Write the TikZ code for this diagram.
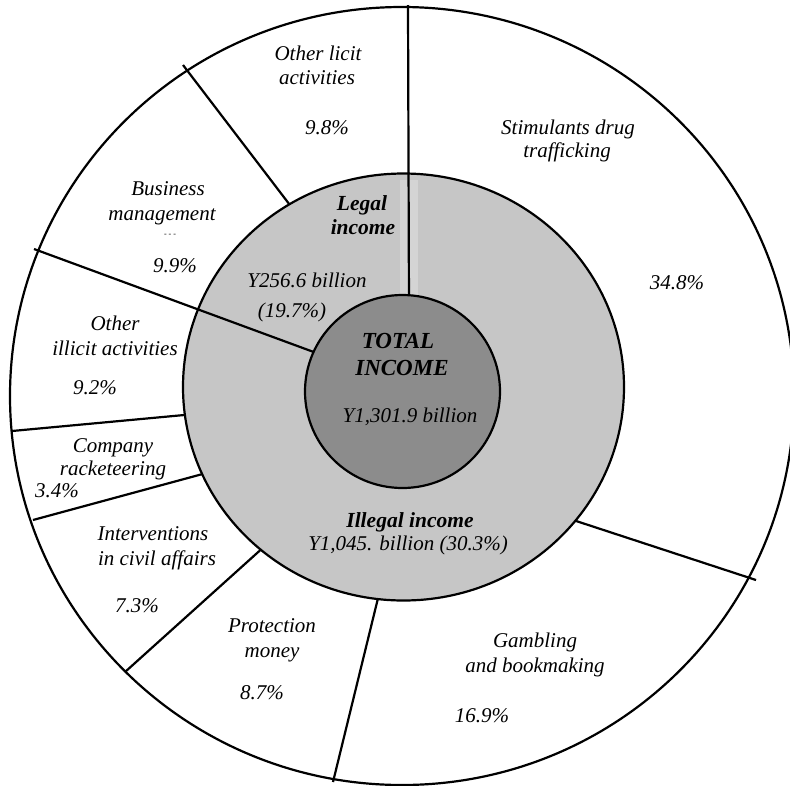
\documentclass[tikz,border=0pt]{standalone}
\usepackage{fontspec}
\setmainfont{Liberation Serif}
\begin{document}
\begin{tikzpicture}[x=1pt,y=-1pt,
  ring/.style={draw=black,line width=2.2pt},
  div/.style={draw=black,line width=2.2pt},
  lab/.style={font=\fontsize{21}{23}\selectfont\itshape,anchor=base,inner sep=0pt},
  blab/.style={font=\fontsize{21.5}{23}\selectfont\bfseries\itshape,anchor=base,inner sep=0pt},
  tlab/.style={font=\fontsize{23}{25}\selectfont\bfseries\itshape,anchor=base,inner sep=0pt}]
\definecolor{midgray}{RGB}{198,198,198}
\definecolor{ingray}{RGB}{140,140,140}
\useasboundingbox (0,0) rectangle (790,785);
\fill[white] (0,0) rectangle (790,785);
% outer disc
\coordinate (co) at (402,396);
\draw[ring,fill=white] (co) ellipse [x radius=392pt, y radius=389pt];
% dividers from outer circle to middle circle
\draw[div] (183,65) -- (296,213);
\draw[div] (12,431) -- (195,414);
\draw[div] (33,520) -- (210,472);
\draw[div] (125,672) -- (266,545);
\draw[div] (333,782) -- (380,590);
\draw[div] (570,519) -- (756,580);
% middle ring
\coordinate (cm) at (403.5,387);
\draw[ring,fill=midgray] (cm) ellipse [x radius=220.5pt, y radius=213.5pt];
\draw[white,opacity=.25,line width=18pt] (409,180) -- (409,300);
% dividers reaching the inner circle
\draw[div] (408,5) -- (409,310);
\draw[div] (34,249) -- (330,358);
% inner disc
\coordinate (ci) at (402.5,391.5);
\draw[ring,fill=ingray] (ci) ellipse [x radius=97.5pt, y radius=96.5pt];
% labels
\node[lab] (ol1) at (318,60) {Other licit};
\node[lab] (ol2) at (317,84) {activities};
\node[lab] (ol3) at (327,134) {9.8\%};
\node[lab] (sd1) at (568,134) {Stimulants drug};
\node[lab] (sd2) at (567,157) {trafficking};
\node[lab] (sd3) at (677,289) {34.8\%};
\node[lab] (bm1) at (168,195) {Business};
\node[lab] (bm2) at (162,220) {management};
\node[font=\fontsize{8}{8}\selectfont,anchor=base,inner sep=0pt] (bm0) at (170,236) {- - -};
\node[lab] (bm3) at (175,272) {9.9\%};
\node[blab] (lg1) at (362,210) {Legal};
\node[blab] (lg2) at (363,234) {income};
\node[lab] (lg3) at (307,287) {Y256.6 billion};
\node[lab] (lg4) at (292,317) {(19.7\%)};
\node[tlab] (ti1) at (398,348) {TOTAL};
\node[tlab] (ti2) at (402,375) {INCOME};
\node[lab] (ti3) at (410,422) {Y1,301.9 billion};
\node[lab] (oi1) at (115,330) {Other};
\node[lab] (oi2) at (115,355) {illicit activities};
\node[lab] (oi3) at (95,394) {9.2\%};
\node[lab] (cr1) at (113,452) {Company};
\node[lab] (cr2) at (113,475) {racketeering};
\node[lab] (cr3) at (57,497) {3.4\%};
\node[lab] (ic1) at (153,540) {Interventions};
\node[lab] (ic2) at (157,565) {in civil affairs};
\node[lab] (ic3) at (137,612) {7.3\%};
\node[lab] (pm1) at (272,632) {Protection};
\node[lab] (pm2) at (272,657) {money};
\node[lab] (pm3) at (262,699) {8.7\%};
\node[blab] (il1) at (410,527) {Illegal income};
\node[lab] (il2) at (408,550) {Y1,045. billion (30.3\%)};
\node[lab] (gb1) at (535,647) {Gambling};
\node[lab] (gb2) at (535,672) {and bookmaking};
\node[lab] (gb3) at (482,722) {16.9\%};
\end{tikzpicture}
\end{document}
